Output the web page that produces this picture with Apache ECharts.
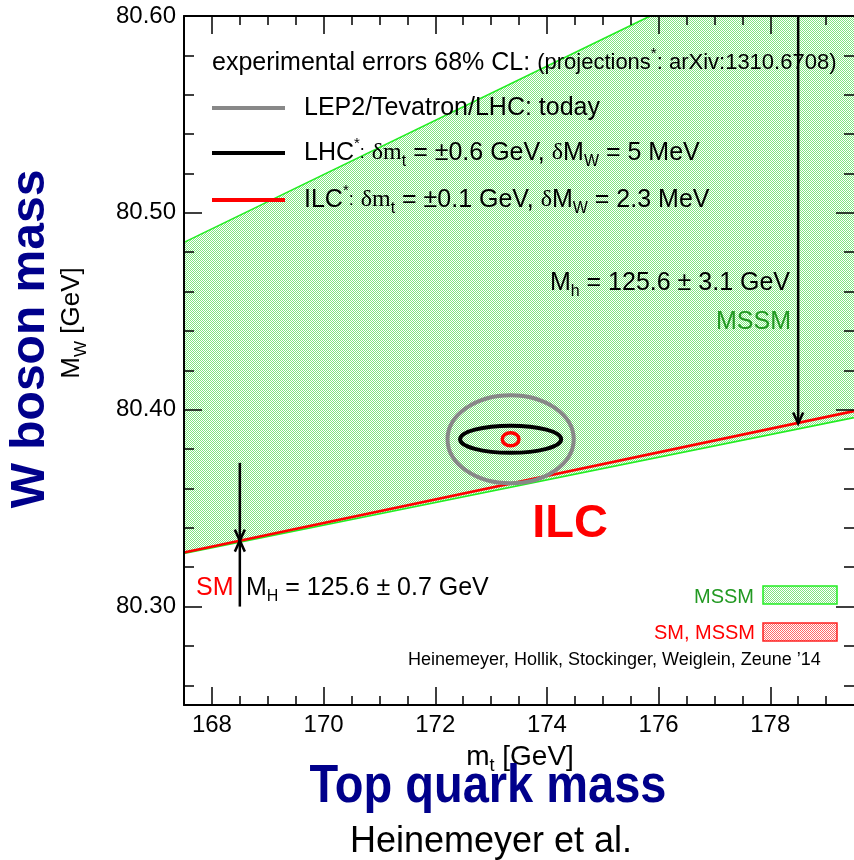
<!DOCTYPE html>
<html>
<head>
<meta charset="utf-8">
<script src="https://cdn.jsdelivr.net/npm/echarts@6/dist/echarts.min.js"></script>
<style>
  html, body { margin: 0; padding: 0; background: #ffffff; }
  #chart { width: 854px; height: 860px; }
</style>
</head>
<body>
<div id="chart"></div>
<script>
// ---- axis ranges and ticks (m_t in GeV, M_W in GeV) ----
const xRange = [167.5, 179.5];
const yRange = [80.25, 80.60];
const xMajorTicks = [168, 170, 172, 174, 176, 178];
const xMinorTicks = [168.5, 169, 169.5, 170.5, 171, 171.5, 172.5, 173, 173.5,
                     174.5, 175, 175.5, 176.5, 177, 177.5, 178.5, 179];
const yMajorTicks = [80.30, 80.40, 80.50, 80.60];
const yMinorTicks = [80.26, 80.28, 80.32, 80.34, 80.36, 80.38, 80.42, 80.44,
                     80.46, 80.48, 80.52, 80.54, 80.56, 80.58];

// ---- MSSM allowed region: lower and upper boundary ----
const mssmLowerMt = [167.5, 179.5];
const mssmLowerMw = [80.327, 80.396];
const mssmUpperMt = [167.5, 175.85];
const mssmUpperMw = [80.485, 80.600];

// ---- SM prediction (M_H = 125.6 GeV) ----
const smMt = [167.5, 179.5];
const smMw = [80.3275, 80.3993];

// ---- 68% CL experimental ellipses: today, LHC, ILC ----
const ellipseNames = ['LEP2/Tevatron/LHC: today', 'LHC', 'ILC'];
const ellipseMt = [173.35, 173.35, 173.35];
const ellipseMw = [80.385, 80.385, 80.385];
const ellipseHalfMt = [1.13, 0.905, 0.149];
const ellipseHalfMw = [0.0224, 0.0069, 0.0033];

// ---- arrows (Higgs-mass annotations) ----
const arrowMt = [168.5, 168.5, 178.5];
const arrowFromMw = [80.373, 80.300, 80.600];
const arrowToMw = [80.3335, 80.3335, 80.393];

// ---- styling ----
const SANS = '"Liberation Sans", Arial, Helvetica, sans-serif';
const SERIF = '"Liberation Serif", "DejaVu Serif", serif';
const NAVY = '#00008b';
const MSSM_GREEN = '#229922';
const ellipseColors = ['#888888', '#000000', '#ff0000'];
const ellipseWidths = [4, 4, 3.5];

// fine dotted fill texture
function hatchTile(fg, bg) {
  const c = document.createElement('canvas');
  c.width = 2; c.height = 2;
  const g = c.getContext('2d');
  g.fillStyle = bg; g.fillRect(0, 0, 2, 2);
  g.fillStyle = fg;
  g.fillRect(0, 0, 1, 1);
  g.fillRect(1, 1, 1, 1);
  return c;
}
const greenFill = { image: hatchTile('#80e680', '#ffffff'), repeat: 'repeat' };
const redFill = { image: hatchTile('#ff6a6a', '#ffffff'), repeat: 'repeat' };

function rich(size, color, small) {
  const lh = size + 9;
  const sub = Math.round(size * 0.64);
  const sup = Math.round(size * 0.6);
  return {
    n: { fontSize: size, fontFamily: SANS, fill: color, lineHeight: lh },
    s: { fontSize: small || Math.round(size * 0.8), fontFamily: SANS, fill: color, lineHeight: lh },
    g: { fontSize: size - 1, fontFamily: SERIF, fill: color, lineHeight: lh },
    sub: { fontSize: sub, fontFamily: SANS, fill: color, lineHeight: sub, verticalAlign: 'bottom' },
    sup: { fontSize: sup, fontFamily: SANS, fill: color, lineHeight: sup, verticalAlign: 'top' }
  };
}

function text(x, y, str, opts) {
  opts = opts || {};
  const size = opts.size || 25;
  const color = opts.color || '#000';
  const style = {
    text: str,
    fill: color,
    font: (opts.bold ? 'bold ' : '') + size + 'px ' + SANS,
    align: opts.align || 'left',
    verticalAlign: 'middle'
  };
  if (!opts.plain) style.rich = rich(size, color, opts.small);
  return {
    type: 'text', x: x, y: y, z: 100, silent: true,
    rotation: opts.rotation || 0,
    scaleX: opts.scaleX || 1, scaleY: opts.scaleY || 1,
    style: style
  };
}

function tickAxis(dim, position, values, len, showLine, showLabels) {
  const ax = {
    type: 'value',
    min: dim === 'x' ? xRange[0] : yRange[0],
    max: dim === 'x' ? xRange[1] : yRange[1],
    position: position,
    z: 10,
    axisLine: { show: showLine, onZero: false, lineStyle: { color: '#000', width: 2 } },
    axisTick: { show: true, inside: true, length: len, customValues: values,
                lineStyle: { color: '#000', width: 1.5 } },
    axisLabel: { show: false },
    splitLine: { show: false }
  };
  if (showLabels) {
    ax.axisLabel = {
      show: true, customValues: values, margin: 8,
      fontSize: 24, fontFamily: SANS, color: '#000',
      formatter: dim === 'y' ? (v) => Number(v).toFixed(2) : (v) => String(v)
    };
  }
  return ax;
}

const chart = echarts.init(document.getElementById('chart'), null, { renderer: 'canvas' });

const option = {
  animation: false,
  backgroundColor: '#ffffff',
  grid: { left: 184, right: 0, top: 16, bottom: 155, containLabel: false, outerBoundsMode: 'none' },
  xAxis: [
    tickAxis('x', 'bottom', xMajorTicks, 18, true, true),
    tickAxis('x', 'bottom', xMinorTicks, 9, false, false),
    tickAxis('x', 'top', xMajorTicks, 18, true, false),
    tickAxis('x', 'top', xMinorTicks, 9, false, false)
  ],
  yAxis: [
    tickAxis('y', 'left', yMajorTicks, 18, true, true),
    tickAxis('y', 'left', yMinorTicks, 10, false, false),
    tickAxis('y', 'right', yMajorTicks, 18, false, false),
    tickAxis('y', 'right', yMinorTicks, 10, false, false)
  ],
  series: [
    {
      // MSSM allowed band
      type: 'custom', name: 'MSSM', coordinateSystem: 'cartesian2d',
      xAxisIndex: 0, yAxisIndex: 0, clip: true, silent: true, z: 1,
      data: [[mssmLowerMt[0], mssmLowerMw[0]]],
      renderItem: function (params, api) {
        const pts = [];
        for (let i = 0; i < mssmLowerMt.length; i++) pts.push(api.coord([mssmLowerMt[i], mssmLowerMw[i]]));
        pts.push(api.coord([xRange[1], yRange[1]]));
        for (let i = mssmUpperMt.length - 1; i >= 0; i--) pts.push(api.coord([mssmUpperMt[i], mssmUpperMw[i]]));
        return { type: 'polygon', shape: { points: pts }, style: { fill: greenFill } };
      }
    },
    {
      type: 'line', name: 'MSSM upper', xAxisIndex: 0, yAxisIndex: 0, z: 3,
      data: mssmUpperMt.map((x, i) => [x, mssmUpperMw[i]]),
      symbol: 'none', silent: true, clip: true,
      lineStyle: { color: '#22ee22', width: 1.6 }
    },
    {
      type: 'line', name: 'MSSM lower', xAxisIndex: 0, yAxisIndex: 0, z: 3,
      data: mssmLowerMt.map((x, i) => [x, mssmLowerMw[i]]),
      symbol: 'none', silent: true, clip: true,
      lineStyle: { color: '#22ee22', width: 1.6 }
    },
    {
      type: 'line', name: 'SM', xAxisIndex: 0, yAxisIndex: 0, z: 4,
      data: smMt.map((x, i) => [x, smMw[i]]),
      symbol: 'none', silent: true, clip: true,
      lineStyle: { color: '#ff0000', width: 2.6 }
    },
    {
      // experimental 68% CL ellipses
      type: 'custom', name: 'ellipses', coordinateSystem: 'cartesian2d',
      xAxisIndex: 0, yAxisIndex: 0, silent: true, z: 5,
      data: ellipseNames.map((n, i) => [ellipseMt[i], ellipseMw[i], ellipseHalfMt[i], ellipseHalfMw[i]]),
      renderItem: function (params, api) {
        const c = api.coord([api.value(0), api.value(1)]);
        const s = api.size([api.value(2), api.value(3)]);
        return {
          type: 'ellipse',
          shape: { cx: c[0], cy: c[1], rx: s[0], ry: s[1] },
          style: { fill: 'none', stroke: ellipseColors[params.dataIndex], lineWidth: ellipseWidths[params.dataIndex] }
        };
      }
    },
    {
      // arrows pointing at the SM / MSSM boundary
      type: 'custom', name: 'arrows', coordinateSystem: 'cartesian2d',
      xAxisIndex: 0, yAxisIndex: 0, silent: true, z: 6,
      data: arrowMt.map((x, i) => [x, arrowFromMw[i], arrowToMw[i]]),
      renderItem: function (params, api) {
        const a = api.coord([api.value(0), api.value(1)]);
        const b = api.coord([api.value(0), api.value(2)]);
        const dir = b[1] > a[1] ? 1 : -1;
        const st = { stroke: '#000', lineWidth: 2.5, fill: 'none' };
        return {
          type: 'group',
          children: [
            { type: 'line', shape: { x1: a[0], y1: a[1], x2: b[0], y2: b[1] }, style: st },
            { type: 'polyline', shape: { points: [[b[0] - 5, b[1] - dir * 11], [b[0], b[1]], [b[0] + 5, b[1] - dir * 11]] }, style: st }
          ]
        };
      }
    }
  ],
  graphic: {
    elements: [
      // legend block
      text(212, 63, '{n|experimental errors 68% CL: }{s|(projections}{sup|*}{s|: arXiv:1310.6708)}', { small: 22 }),
      { type: 'line', z: 100, shape: { x1: 212, y1: 108, x2: 285, y2: 108 }, style: { stroke: '#888888', lineWidth: 4 } },
      text(304, 108, '{n|LEP2/Tevatron/LHC: today}'),
      { type: 'line', z: 100, shape: { x1: 212, y1: 153, x2: 285, y2: 153 }, style: { stroke: '#000000', lineWidth: 4 } },
      text(304, 153, '{n|LHC}{sup|*}{s|:} {g|δm}{sub|t}{n| = ±0.6 GeV, }{g|δ}{n|M}{sub|W}{n| = 5 MeV}', { small: 18 }),
      { type: 'line', z: 100, shape: { x1: 212, y1: 200, x2: 285, y2: 200 }, style: { stroke: '#ff0000', lineWidth: 4 } },
      text(304, 200, '{n|ILC}{sup|*}{s|:} {g|δm}{sub|t}{n| = ±0.1 GeV, }{g|δ}{n|M}{sub|W}{n| = 2.3 MeV}', { small: 18 }),

      // MSSM Higgs-mass annotation
      text(790, 283, '{n|M}{sub|h}{n| = 125.6 ± 3.1 GeV}', { align: 'right' }),
      text(791, 322, 'MSSM', { color: MSSM_GREEN, plain: true, align: 'right' }),

      // SM Higgs-mass annotation
      text(196, 588, 'SM', { color: '#ff0000', plain: true }),
      text(246, 588, '{n|M}{sub|H}{n| = 125.6 ± 0.7 GeV}'),

      text(570, 524, 'ILC', { size: 47, bold: true, color: '#ff0000', plain: true, align: 'center' }),

      // band key
      text(754, 597, 'MSSM', { size: 20, color: MSSM_GREEN, plain: true, align: 'right' }),
      { type: 'rect', z: 100, shape: { x: 763, y: 586, width: 74, height: 18 }, style: { fill: greenFill, stroke: '#22ee22', lineWidth: 1.5 } },
      text(755, 633, 'SM, MSSM', { size: 20, color: '#ff0000', plain: true, align: 'right' }),
      { type: 'rect', z: 100, shape: { x: 763, y: 623, width: 74, height: 18 }, style: { fill: redFill, stroke: '#ff2222', lineWidth: 1.5 } },
      text(408, 660, 'Heinemeyer, Hollik, Stockinger, Weiglein, Zeune ’14', { size: 18, plain: true }),

      // axis titles
      text(520, 757, '{n|m}{sub|t}{n| [GeV]}', { size: 28, align: 'center' }),
      text(72, 323, '{n|M}{sub|W}{n| [GeV]}', { size: 26, align: 'center', rotation: Math.PI / 2 }),
      text(31, 339, 'W boson mass', { size: 48, bold: true, color: NAVY, plain: true, align: 'center', rotation: Math.PI / 2 }),
      text(488, 787, 'Top quark mass', { size: 47, bold: true, color: NAVY, plain: true, align: 'center', scaleY: 1.15 }),
      text(491, 842, 'Heinemeyer et al.', { size: 36, plain: true, align: 'center' })
    ]
  }
};

chart.setOption(option);
</script>
</body>
</html>
